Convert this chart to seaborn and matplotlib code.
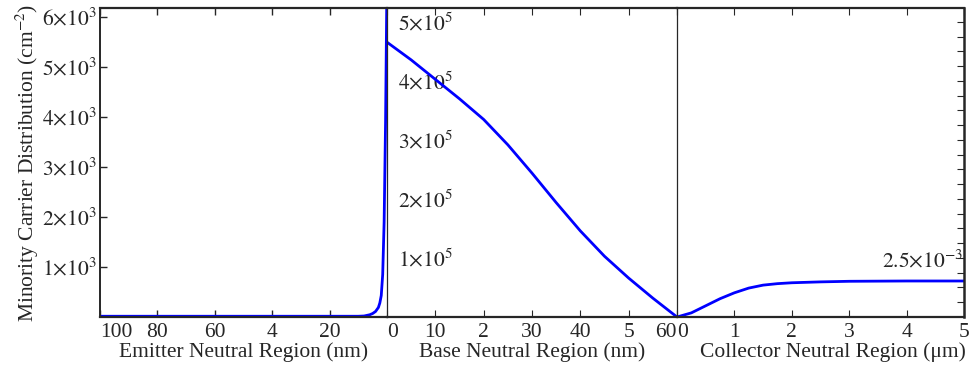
import matplotlib
matplotlib.use("Agg")
import matplotlib.pyplot as plt
import seaborn as sns

# emitter neutral region: distance from junction (nm) vs minority carrier density
emitter_nm = [100, 20, 10, 8, 6, 5, 4, 3, 2.5, 2, 1.5, 1, 0.5, 0]
emitter_n = [15, 15, 15, 20, 45, 70, 110, 190, 280, 430, 850, 1900, 3900, 6800]
emitter_xticks = [100, 80, 60, 40, 20]
emitter_xticklabels = ["100", "80", "60", "4", "20"]
emitter_yticks = [1e3, 2e3, 3e3, 4e3, 5e3, 6e3]
emitter_yticklabels = [r"$1{\times}10^{3}$", r"$2{\times}10^{3}$", r"$3{\times}10^{3}$",
                       r"$4{\times}10^{3}$", r"$5{\times}10^{3}$", r"$6{\times}10^{3}$"]

# base neutral region
base_nm = [0, 5, 10, 15, 20, 25, 30, 35, 40, 45, 50, 55, 60]
base_n = [4.66e5, 4.36e5, 4.03e5, 3.70e5, 3.35e5, 2.92e5, 2.44e5, 1.94e5, 1.46e5, 1.03e5, 0.66e5, 0.32e5, 0]
base_xticks = [0, 10, 20, 30, 40, 50, 60]
base_xticklabels = ["0", "10", "2", "30", "40", "5", "60"]
base_yticks = [1e5, 2e5, 3e5, 4e5, 5e5]
base_yticklabels = [r"$1{\times}10^{5}$", r"$2{\times}10^{5}$", r"$3{\times}10^{5}$",
                    r"$4{\times}10^{5}$", r"$5{\times}10^{5}$"]

# collector neutral region
coll_um = [0, 0.25, 0.5, 0.75, 1, 1.25, 1.5, 1.75, 2, 2.5, 3, 4, 5]
coll_n = [0, 0.14e-3, 0.38e-3, 0.62e-3, 0.82e-3, 0.98e-3, 1.08e-3, 1.13e-3, 1.16e-3, 1.19e-3, 1.21e-3, 1.22e-3, 1.22e-3]
coll_xticks = [0, 1, 2, 3, 4, 5]
coll_xticklabels = ["0", "1", "2", "3", "4", "5"]
coll_yticks = [i * 0.5e-3 for i in range(1, 21)]
coll_note = r"$2.5{\times}10^{-3}$"

sns.set_style("ticks")
plt.rcParams["font.family"] = ["Liberation Serif", "DejaVu Serif"]
plt.rcParams["mathtext.fontset"] = "stix"
plt.rcParams["font.size"] = 15.5

W, H = 974, 373
fig = plt.figure(figsize=(W / 100, H / 100), dpi=100)
bottom, height = 56 / H, 309 / H
ax_e = fig.add_axes([100 / W, bottom, 287 / W, height])
ax_b = fig.add_axes([387 / W, bottom, 290 / W, height])
ax_c = fig.add_axes([677 / W, bottom, 287 / W, height])

blue = "#0000ff"
sns.lineplot(x=emitter_nm, y=emitter_n, ax=ax_e, color=blue, lw=2)
sns.lineplot(x=base_nm, y=base_n, ax=ax_b, color=blue, lw=2)
sns.lineplot(x=coll_um, y=coll_n, ax=ax_c, color=blue, lw=2)

# emitter panel
ax_e.set_xlim(100, 0)
ax_e.set_ylim(0, 6180)
ax_e.set_xticks(emitter_xticks)
ax_e.set_xticklabels(emitter_xticklabels)
ax_e.set_yticks(emitter_yticks)
ax_e.set_yticklabels(emitter_yticklabels)
ax_e.xaxis.get_ticklabels()[0].set_ha("left")
ax_e.set_xlabel("Emitter Neutral Region (nm)")
ax_e.set_ylabel(r"Minority Carrier Distribution (cm$^{-2}$)", labelpad=1)
ax_e.tick_params(axis="both", direction="in", length=5, top=True, width=1)
ax_e.tick_params(axis="x", pad=4)
ax_e.tick_params(axis="y", pad=2)
ax_e.spines["right"].set_visible(False)

# base panel
ax_b.set_xlim(0, 60)
ax_b.set_ylim(0, 5.24e5)
ax_b.set_xticks(base_xticks)
ax_b.set_xticklabels(base_xticklabels)
ax_b.set_yticks(base_yticks)
ax_b.set_yticklabels(base_yticklabels)
ax_b.tick_params(axis="x", direction="in", length=5, top=True, pad=4)
ax_b.tick_params(axis="y", length=0, pad=-8)
for lbl in ax_b.get_yticklabels():
    lbl.set_ha("left")
labels = ax_b.xaxis.get_ticklabels()
labels[0].set_ha("left")
labels[-1].set_ha("right")
ax_b.set_xlabel("Base Neutral Region (nm)")
ax_b.set_ylabel("")
ax_b.spines["right"].set_visible(False)

# collector panel
ax_c.set_xlim(0, 5)
ax_c.set_ylim(0, 10.47e-3)
ax_c.set_xticks(coll_xticks)
ax_c.set_xticklabels(coll_xticklabels)
ax_c.yaxis.tick_right()
ax_c.set_yticks(coll_yticks)
ax_c.set_yticklabels([])
ax_c.tick_params(axis="x", direction="in", length=5, top=True, pad=4)
ax_c.tick_params(axis="y", direction="in", length=5, left=False, right=True)
ax_c.xaxis.get_ticklabels()[0].set_ha("left")
ax_c.set_xlabel("Collector Neutral Region (μm)")
ax_c.set_ylabel("")
ax_c.text(4.99, 2.27e-3, coll_note, ha="right", va="top")

# x labels sit tight under the tick labels
ax_e.xaxis.set_label_coords(0.5, -0.083)
ax_b.xaxis.set_label_coords(0.5, -0.083)
ax_c.xaxis.set_label_coords(0.545, -0.083)

for ax in (ax_e, ax_b, ax_c):
    for side in ("top", "bottom"):
        ax.spines[side].set_linewidth(1.6)
ax_e.spines["left"].set_linewidth(1.4)
ax_c.spines["right"].set_linewidth(1.8)
ax_b.spines["left"].set_linewidth(0.9)
ax_c.spines["left"].set_linewidth(0.9)

fig.savefig("out.png", dpi=100)
